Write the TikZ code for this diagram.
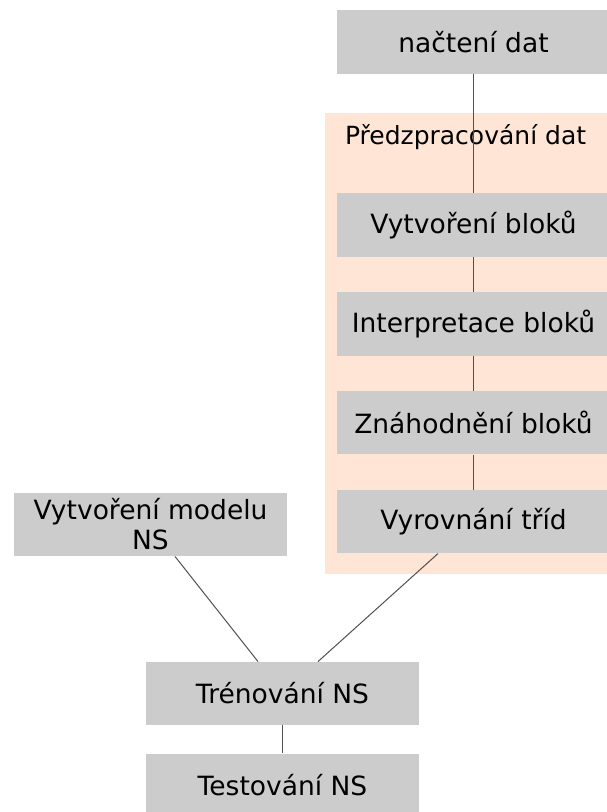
\documentclass[tikz,border=0pt]{standalone}
\usepackage{fontspec}
\setmainfont{DejaVu Sans}
\usetikzlibrary{positioning,backgrounds}
\definecolor{box1}{RGB}{204,204,204}
\definecolor{peach1}{RGB}{255,229,213}
\definecolor{line1}{RGB}{80,80,80}
\tikzstyle{blok} = [rectangle, fill=box1, inner sep=0pt,
    minimum width=273pt, minimum height=63.5pt, align=center, font=\fontsize{26.5}{30}\selectfont]
\tikzstyle{popis} = [inner sep=0pt, font=\fontsize{25}{30}\selectfont]
\tikzstyle{spoj} = [line width=1pt, draw=line1]

\begin{document}
\begin{tikzpicture}[x=1pt, y=1pt, node distance=35pt]
    \useasboundingbox (0,0) rectangle (607,-812);
    % Right column
    \node (nacteni) [blok] at (473.5,-42) {načtení dat};
    \node (vytvoreni) [blok, below=119pt of nacteni] {Vytvoření bloků};
    \node (interpretace) [blok, below=of vytvoreni] {Interpretace bloků};
    \node (znahodneni) [blok, below=of interpretace] {Znáhodnění bloků};
    \node (vyrovnani) [blok, below=of znahodneni] {Vyrovnání tříd};
    \node (predzpr) [popis, anchor=base west] at ([xshift=8pt,yshift=48pt]vytvoreni.north west) {Předzpracování dat};

    % Left and bottom
    \node (model) [blok] at (150.5,-524.5) {Vytvoření modelu\\NS};
    \node (trenovani) [blok] at (282.5,-693.5) {Trénování NS};
    \node (testovani) [blok, below=28pt of trenovani] {Testování NS};

    % Background of the group
    \begin{scope}[on background layer]
        \fill [peach1] ([xshift=-12pt,yshift=80pt]vytvoreni.north west) rectangle ([xshift=12pt,yshift=-20pt]vyrovnani.south east);
    \end{scope}

    % Lines
    \draw [spoj] (nacteni) -- (vytvoreni);
    \draw [spoj] (vytvoreni) -- (interpretace);
    \draw [spoj] (interpretace) -- (znahodneni);
    \draw [spoj] (znahodneni) -- (vyrovnani);
    \draw [spoj] ([xshift=24.5pt]model.south) -- ([xshift=-24.5pt]trenovani.north);
    \draw [spoj] ([xshift=-35.5pt]vyrovnani.south) -- ([xshift=35.5pt]trenovani.north);
    \draw [spoj] (trenovani) -- (testovani);
\end{tikzpicture}
\end{document}
